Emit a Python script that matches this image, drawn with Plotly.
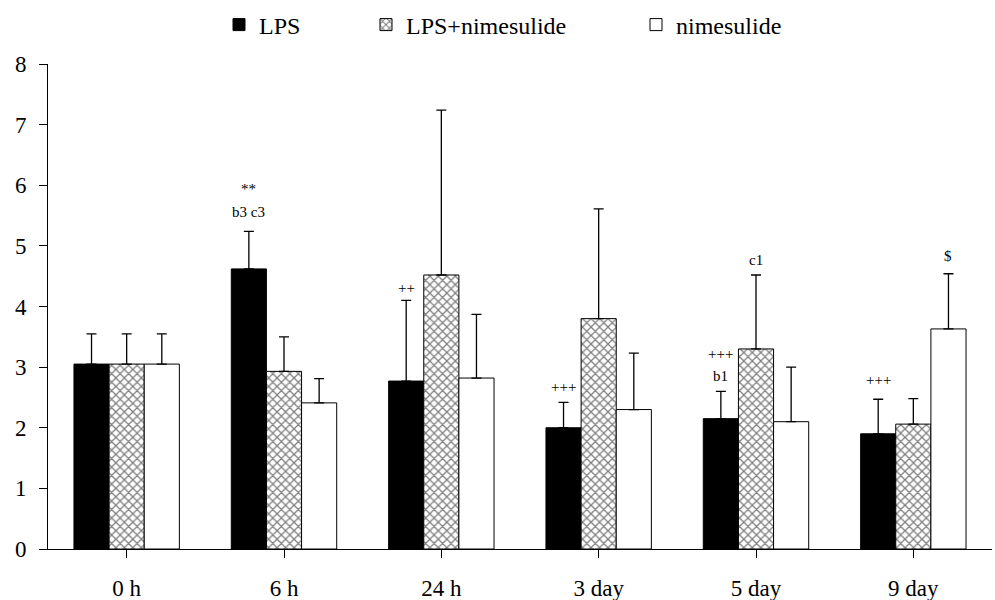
import plotly.graph_objects as go

categories = ["0 h", "6 h", "24 h", "3 day", "5 day", "9 day"]
lps = [3.05, 4.62, 2.77, 2.00, 2.15, 1.90]
lps_err_top = [3.55, 5.24, 4.10, 2.42, 2.60, 2.47]
combo = [3.05, 2.93, 4.52, 3.80, 3.30, 2.06]
combo_err_top = [3.55, 3.50, 7.24, 5.61, 4.52, 2.48]
nime = [3.05, 2.41, 2.82, 2.30, 2.10, 3.63]
nime_err_top = [3.55, 2.81, 3.87, 3.23, 3.00, 4.54]

# annotations: (category index, series index, y, text)
notes = [
    (1, 0, 5.94, "**"),
    (1, 0, 5.56, "b3 c3"),
    (2, 0, 4.30, "++"),
    (3, 0, 2.68, "+++"),
    (4, 0, 3.21, "+++"),
    (4, 0, 2.86, "b1"),
    (4, 1, 4.77, "c1"),
    (5, 0, 2.78, "+++"),
    (5, 2, 4.83, "$"),
]

bargap = 0.33
bw = (1 - bargap) / 3
FONT = "Liberation Serif"

fig = go.Figure()

def add(name, vals, tops, color, pattern, legend):
    up = [t - v for t, v in zip(tops, vals)]
    fig.add_trace(go.Bar(
        name=name, x=list(range(len(categories))), y=vals, legend=legend,
        showlegend=True,
        marker=dict(color=color, line=dict(color="black", width=1), pattern=pattern),
        error_y=dict(type="data", symmetric=False, array=up,
                     arrayminus=[0] * len(vals), color="black",
                     thickness=1.3, width=5),
    ))

add("LPS", lps, lps_err_top, "black", None, "legend")
add("LPS+nimesulide", combo, combo_err_top, "white",
    dict(shape="x", fgcolor="black", bgcolor="white", size=6, solidity=0.38), "legend2")
add("nimesulide", nime, nime_err_top, "white", None, "legend3")

for ci, si, y, t in notes:
    fig.add_annotation(x=ci + (si - 1) * bw, y=y, text=t, showarrow=False,
                       xref="x", yref="y", yanchor="middle",
                       font=dict(family=FONT, size=15, color="black"))

def leg(xpx):
    return dict(orientation="h", x=xpx / 995, xanchor="left", xref="container",
                y=1 - 25 / 600, yref="container", yanchor="middle",
                font=dict(family=FONT, size=24, color="black"), itemwidth=30,
                bgcolor="rgba(0,0,0,0)", visible=True)

fig.update_layout(
    width=995, height=600, showlegend=True,
    barmode="group", bargap=bargap, bargroupgap=0,
    plot_bgcolor="white", paper_bgcolor="white",
    margin=dict(l=48, r=3, t=64, b=51, autoexpand=False),
    font=dict(family=FONT, size=23, color="black"),
    legend=leg(219), legend2=leg(366), legend3=leg(636),
    xaxis=dict(tickmode="array", tickvals=list(range(len(categories))),
               ticktext=categories, range=[-0.5, len(categories) - 0.5],
               showline=True, linecolor="black", linewidth=1,
               ticks="outside", tickson="boundaries", ticklen=8,
               tickcolor="black", showgrid=False, zeroline=False,
               ticklabelstandoff=10,
               tickfont=dict(family=FONT, size=23)),
    yaxis=dict(range=[0, 8], dtick=1, showline=True, linecolor="black",
               linewidth=1, ticks="outside", ticklen=8, tickcolor="black",
               showgrid=False, zeroline=False, ticklabelstandoff=8,
               tickfont=dict(family=FONT, size=23)),
)

fig.write_html("out.html", config={"displayModeBar": False},
               post_script="document.body.style.margin='0';")
